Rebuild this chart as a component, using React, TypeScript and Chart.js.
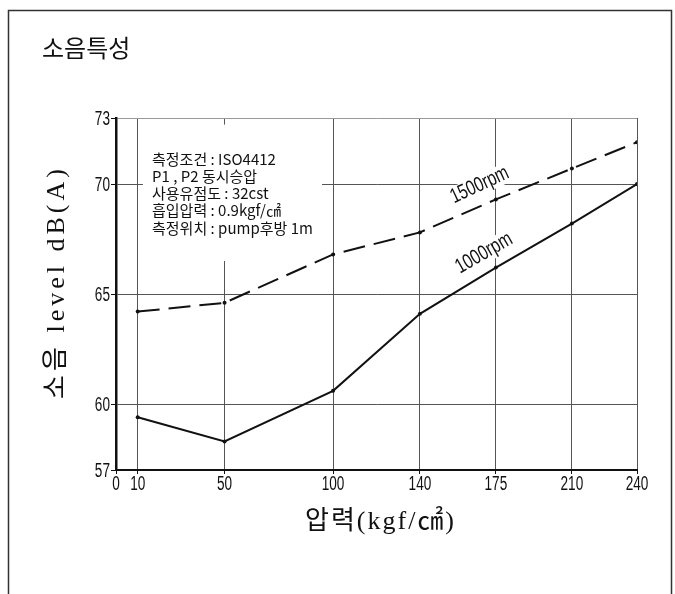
import React, { useEffect, useRef } from 'react';
import { Chart, registerables } from 'chart.js';

Chart.register(...registerables);

// ---- data ----
const pressures = [10, 50, 100, 140, 175, 210, 240];
const noise1500 = [64.2, 64.6, 66.8, 67.8, 69.3, 70.7, 71.9];
const noise1000 = [59.4, 58.3, 60.6, 64.1, 66.2, 68.2, 70.0];
const xTicks = [0, 10, 50, 100, 140, 175, 210, 240];
const yTicks = [57, 60, 65, 70, 73];
const seriesNames = ['1500rpm', '1000rpm'];
const seriesLabelX = [167.5, 169.5];
const seriesLabelY = [69.95, 66.85];
const seriesLabelAngle = [-25, -30];
const chartTitle = '소음특성';
const yTitle = '소음 level dB(A)';
const xTitle = '압력(kgf/㎠)';
const conditions = [
  '측정조건 : ISO4412',
  'P1 , P2 동시승압',
  '사용유점도 : 32cst',
  '흡입압력 : 0.9kgf/㎠',
  '측정위치 : pump후방 1m',
];

const TICK_FONT = "'Liberation Sans', Arial, sans-serif";
const KR_FONT = "'Noto Sans CJK KR', sans-serif";
const SERIF_FONT = "'Liberation Serif', 'Noto Sans CJK KR', serif";
const NARROW = 0.68;
const LABEL_NARROW = 0.75;

const decorPlugin = {
  id: 'decor',
  beforeDraw(chart: any) {
    const { ctx, width, height } = chart;
    ctx.save();
    ctx.fillStyle = '#fff';
    ctx.fillRect(0, 0, width, height);
    ctx.strokeStyle = '#333';
    ctx.lineWidth = 1.5;
    ctx.beginPath();
    ctx.moveTo(8.5, height);
    ctx.lineTo(8.5, 10.5);
    ctx.lineTo(671.5, 10.5);
    ctx.lineTo(671.5, height);
    ctx.stroke();
    ctx.restore();
  },
  beforeDatasetsDraw(chart: any) {
    const { ctx, scales } = chart;
    const x = scales.x;
    const y = scales.y;
    ctx.save();
    ctx.fillStyle = '#fff';
    // white panel behind measurement conditions
    const bx0 = x.getPixelForValue(12.4);
    const bx1 = x.getPixelForValue(94.9);
    const by0 = y.getPixelForValue(72.7);
    const by1 = y.getPixelForValue(66.5);
    ctx.fillRect(bx0, by0, bx1 - bx0, by1 - by0);
    // white backgrounds behind series labels
    ctx.font = `21px ${TICK_FONT}`;
    seriesNames.forEach((name, i) => {
      const px = x.getPixelForValue(seriesLabelX[i]);
      const py = y.getPixelForValue(seriesLabelY[i]);
      const w = ctx.measureText(name).width * LABEL_NARROW + 6;
      ctx.save();
      ctx.translate(px, py);
      ctx.rotate((seriesLabelAngle[i] * Math.PI) / 180);
      ctx.fillRect(-w / 2, -10, w, 20);
      ctx.restore();
    });
    ctx.restore();
  },
  afterDraw(chart: any) {
    const { ctx, chartArea, scales } = chart;
    const x = scales.x;
    const y = scales.y;
    ctx.save();
    ctx.fillStyle = '#111';
    ctx.textBaseline = 'middle';

    // tick labels (condensed)
    ctx.font = `20px ${TICK_FONT}`;
    ctx.textAlign = 'center';
    xTicks.forEach((v) => {
      ctx.save();
      ctx.translate(x.getPixelForValue(v), chartArea.bottom + 14);
      ctx.scale(NARROW, 1);
      ctx.fillText(String(v), 0, 0);
      ctx.restore();
    });
    ctx.textAlign = 'right';
    yTicks.forEach((v) => {
      ctx.save();
      ctx.translate(chartArea.left - 6, y.getPixelForValue(v) + 1);
      ctx.scale(NARROW, 1);
      ctx.fillText(String(v), 0, 0);
      ctx.restore();
    });

    // main title
    ctx.textAlign = 'left';
    ctx.font = `24px ${KR_FONT}`;
    ctx.fillText(chartTitle, 42, 48);

    // conditions
    ctx.font = `15px ${KR_FONT}`;
    const cx = chartArea.left + 36;
    conditions.forEach((line, i) => {
      ctx.fillText(line, cx, chartArea.top + 41 + i * 17.2);
    });

    // series labels
    ctx.font = `21px ${TICK_FONT}`;
    ctx.textAlign = 'center';
    seriesNames.forEach((name, i) => {
      const px = x.getPixelForValue(seriesLabelX[i]);
      const py = y.getPixelForValue(seriesLabelY[i]);
      ctx.save();
      ctx.translate(px, py);
      ctx.rotate((seriesLabelAngle[i] * Math.PI) / 180);
      ctx.scale(LABEL_NARROW, 1);
      ctx.fillText(name, 0, 0);
      ctx.restore();
    });

    // y axis title
    ctx.font = `26px ${SERIF_FONT}`;
    (ctx as any).letterSpacing = '4px';
    ctx.save();
    ctx.translate(57, (chartArea.top + chartArea.bottom) / 2 - 12);
    ctx.rotate(-Math.PI / 2);
    ctx.textAlign = 'center';
    ctx.fillText(yTitle, 0, 0);
    ctx.restore();

    // x axis title
    (ctx as any).letterSpacing = '2px';
    ctx.textAlign = 'center';
    ctx.fillText(xTitle, (chartArea.left + chartArea.right) / 2 + 4, chartArea.bottom + 52);
    (ctx as any).letterSpacing = '0px';
    ctx.restore();
  },
};

export default function App() {
  const ref = useRef<HTMLCanvasElement | null>(null);

  useEffect(() => {
    if (!ref.current) return;
    const chart = new Chart(ref.current, {
      type: 'line',
      data: {
        datasets: [
          {
            label: seriesNames[0],
            data: pressures.map((p, i) => ({ x: p, y: noise1500[i] })),
            borderColor: '#111',
            backgroundColor: '#111',
            borderWidth: 2,
            borderDash: [22, 9],
            pointRadius: 2,
            pointBorderWidth: 0,
            tension: 0,
          },
          {
            label: seriesNames[1],
            data: pressures.map((p, i) => ({ x: p, y: noise1000[i] })),
            borderColor: '#111',
            backgroundColor: '#111',
            borderWidth: 2,
            pointRadius: 2,
            pointBorderWidth: 0,
            tension: 0,
          },
        ],
      },
      options: {
        responsive: false,
        animation: false,
        devicePixelRatio: 1,
        layout: { padding: { left: 76, right: 38, top: 118, bottom: 94 } },
        plugins: {
          legend: { display: false },
          tooltip: { enabled: false },
          title: { display: false },
        },
        scales: {
          x: {
            type: 'linear',
            min: 0,
            max: 240,
            afterBuildTicks: (scale: any) => {
              scale.ticks = xTicks.map((v) => ({ value: v }));
            },
            afterFit: (scale: any) => {
              scale.height = 30;
            },
            ticks: { display: false, autoSkip: false },
            grid: {
              color: (c: any) => (c.tick && c.tick.value === 0 ? 'rgba(0,0,0,0)' : '#555'),
              lineWidth: 1,
              tickLength: 4,
              tickColor: '#111',
            },
            border: { display: true, color: '#111', width: 2 },
          },
          y: {
            type: 'linear',
            min: 57,
            max: 73,
            afterBuildTicks: (scale: any) => {
              scale.ticks = yTicks.map((v) => ({ value: v }));
            },
            afterFit: (scale: any) => {
              scale.width = 40;
            },
            ticks: { display: false, autoSkip: false },
            grid: {
              color: (c: any) => {
                const v = c.tick && c.tick.value;
                if (v === 57) return 'rgba(0,0,0,0)';
                if (v === 73) return '#999';
                return '#555';
              },
              lineWidth: 1,
              tickLength: 5,
              tickColor: '#111',
            },
            border: { display: true, color: '#111', width: 2.5 },
          },
        },
      },
      plugins: [decorPlugin],
    } as any);
    return () => chart.destroy();
  }, []);

  return (
    <div style={{ position: 'fixed', left: 0, top: 0, width: 675, height: 594, background: '#fff' }}>
      <canvas ref={ref} width={675} height={594} style={{ display: 'block' }} />
    </div>
  );
}
